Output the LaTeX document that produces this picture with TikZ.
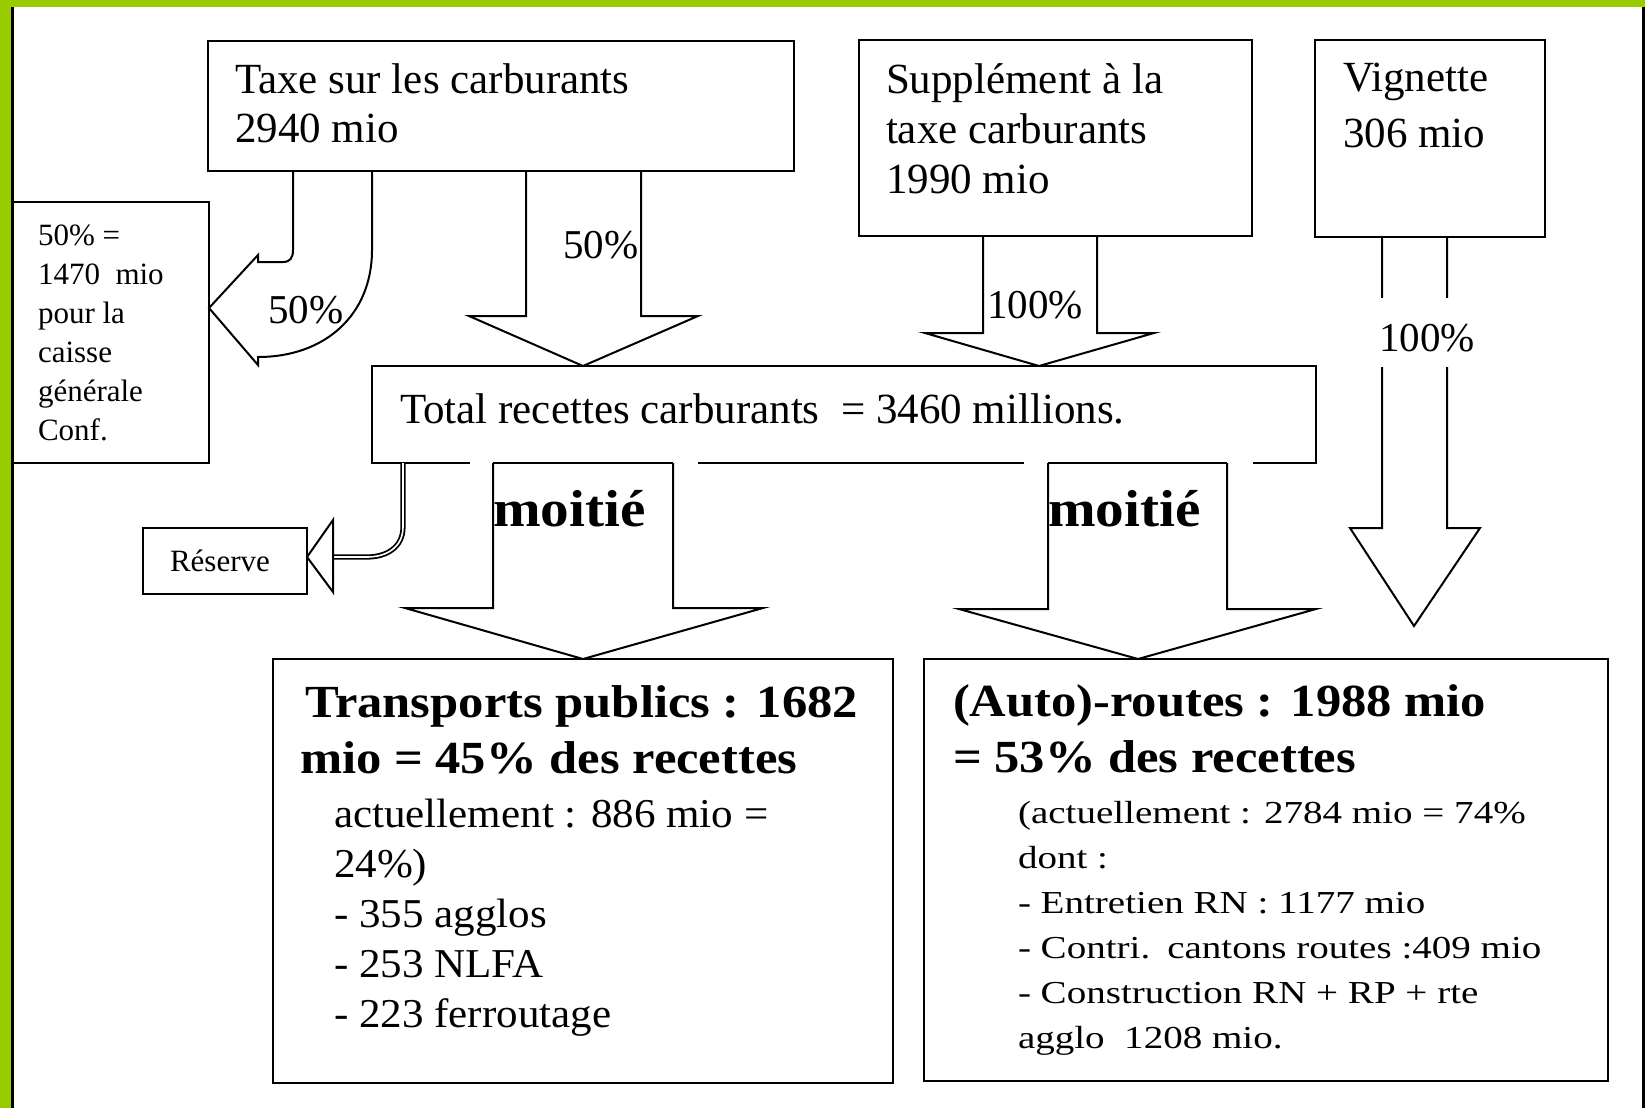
\documentclass[tikz,border=0pt]{standalone}
\usepackage{fontspec}
\setmainfont{Liberation Serif}
\newfontfamily\titlefont[FakeStretch=1.1]{Liberation Serif Bold}
\newfontfamily\transfont[FakeStretch=1.05]{Liberation Serif}
\newfontfamily\autofont[FakeStretch=1.22]{Liberation Serif}
\definecolor{gborder}{RGB}{153,204,0}
\newcommand{\txtlines}[1]{\begin{tabular}[t]{@{}l@{}}#1\end{tabular}}
\tikzset{
  box/.style={draw, line width=2.6pt, inner sep=0pt, outer sep=0pt},
  txt/.style={inner sep=0pt, outer sep=0pt, anchor=base west},
  arr/.style={draw, line width=2pt, line join=miter},
  dbl/.style={draw, double, double distance=1.6pt, line width=1.8pt},
  pct/.style={txt, font=\fontsize{41}{48}\selectfont},
  moit/.style={txt, font=\titlefont\fontsize{52}{60}\selectfont},
}
\begin{document}
\begin{tikzpicture}[x=1pt,y=-1pt]
\useasboundingbox (0,0) rectangle (1645,1108);
% frame
\fill[white] (0,0) rectangle (1645,1108);
\fill[gborder] (0,0) rectangle (1645,7);
\fill[gborder] (0,0) rectangle (11,1108);
\fill[black] (11,7) rectangle (14,1108);
\fill[black] (1642,7) rectangle (1645,1108);

% boxes
\node[box, minimum width=586pt, minimum height=130pt] (taxe) at (501,106) {};
\node[box, minimum width=393pt, minimum height=196pt] (supp) at (1055.5,138) {};
\node[box, minimum width=230pt, minimum height=197pt] (vig) at (1430,138.5) {};
\node[box, minimum width=196pt, minimum height=261pt] (caisse) at (111,332.5) {};
\node[box, minimum width=944pt, minimum height=97pt] (total) at (844,414.5) {};
\node[box, minimum width=164pt, minimum height=66pt] (reserve) at (225,561) {};
\node[box, minimum width=620pt, minimum height=424pt] (trans) at (583,871) {};
\node[box, minimum width=684pt, minimum height=422pt] (auto) at (1266,870) {};

% gaps in the bottom edge of the total box
\fill[white] (470,459) rectangle (493,467);
\fill[white] (673,459) rectangle (698,467);
\fill[white] (1024,459) rectangle (1048,467);
\fill[white] (1227,459) rectangle (1253,467);

% texts in boxes
\node[txt] (taxet) at (235,93) {\fontsize{43}{49}\selectfont\txtlines{Taxe sur les carburants\\2940 mio}};
\node[txt] (suppt) at (886,93) {\fontsize{43}{50}\selectfont\txtlines{Supplément à la\\taxe carburants\\1990 mio}};
\node[txt] (vigt) at (1343,92) {\fontsize{43}{55}\selectfont\txtlines{Vignette\\306 mio}};
\node[txt] (caisset) at (38,245) {\fontsize{31}{39}\selectfont\txtlines{50\% =\\1470~ mio\\pour la\\caisse\\générale\\Conf.}};
\node[txt] (totalt) at (400,423) {\fontsize{43}{50}\selectfont Total recettes carburants~ = 3460 millions.};
\node[txt] (reservet) at (170,571) {\fontsize{31}{39}\selectfont Réserve};
\node[txt] (transh) at (300,717) {\titlefont\fontsize{46}{56}\selectfont\txtlines{\hspace*{5pt}Transports publics : 1682\\mio = 45\% des recettes}};
\node[txt] (transt) at (334,827) {\transfont\fontsize{41}{50}\selectfont\txtlines{actuellement : 886 mio =\\24\%)\\- 355 agglos\\- 253 NLFA\\- 223 ferroutage}};
\node[txt] (autoh) at (953,716) {\titlefont\fontsize{46}{56}\selectfont\txtlines{(Auto)-routes : 1988 mio\\= 53\% des recettes}};
\node[txt] (autot) at (1018,823) {\autofont\fontsize{32}{45}\selectfont\txtlines{(actuellement : 2784 mio = 74\%\\dont :\\- Entretien RN : 1177 mio\\- Contri.\hspace{4pt} cantons routes :409 mio\\- Construction RN + RP + rte\\agglo~ 1208 mio.}};

% block arrows
% taxe -> total (50%)
\draw[arr] (526,0 |- taxe.south) -- (526,316) -- (469,316) -- (583,0 |- total.north) -- (698,316) -- (641,316) -- (641,0 |- taxe.south);
\node[pct] (p50a) at (563,258) {50\%};
% taxe -> caisse (curved, 50%)
\draw[arr] (293,0 |- taxe.south) -- (293,250) .. controls (293,258) and (290,262) .. (283,262) -- (258,262) -- (258,255) -- (caisse.east |- 0,308) -- (258,365) -- (258,357) .. controls (325,357) and (372,315) .. (372,250) -- (372,0 |- taxe.south);
\node[pct] (p50b) at (268,323) {50\%};
% supp -> total (100%)
\draw[arr] (983,0 |- supp.south) -- (983,333) -- (925,333) -- (1039,0 |- total.north) -- (1154,333) -- (1097,333) -- (1097,0 |- supp.south);
\node[pct] (p100a) at (987,318) {100\%};
% vignette (100%)
\coordinate (vtip) at (1414,626);
\draw[arr] (1382,0 |- vig.south) -- (1382,528) -- (1350,528) -- (vtip) -- (1480,528) -- (1447,528) -- (1447,0 |- vig.south);
\node[fill=white, inner sep=0pt, minimum width=90pt, minimum height=69pt] (p100bg) at (1415,332.5) {};
\node[pct] (p100b) at (1379,351) {100\%};
% total -> trans (moitie)
\draw[arr] (493,0 |- total.south) -- (493,608) -- (405,608) -- (583,0 |- trans.north) -- (763,608) -- (673,608) -- (673,0 |- total.south);
\node[moit] (m1) at (493,526) {moitié};
% total -> auto (moitie)
\draw[arr] (1048,0 |- total.south) -- (1048,609) -- (959,609) -- (1138,0 |- auto.north) -- (1316,609) -- (1227,609) -- (1227,0 |- total.south);
\node[moit] (m2) at (1048,526) {moitié};
% total -> reserve
\draw[dbl] (403,0 |- total.south) -- (403,527) .. controls (403,547) and (387,557) .. (367,557) -- (333,557);
\draw[arr] (333,520) -- (reserve.east |- 0,557) -- (333,592) -- cycle;
\end{tikzpicture}
\end{document}
